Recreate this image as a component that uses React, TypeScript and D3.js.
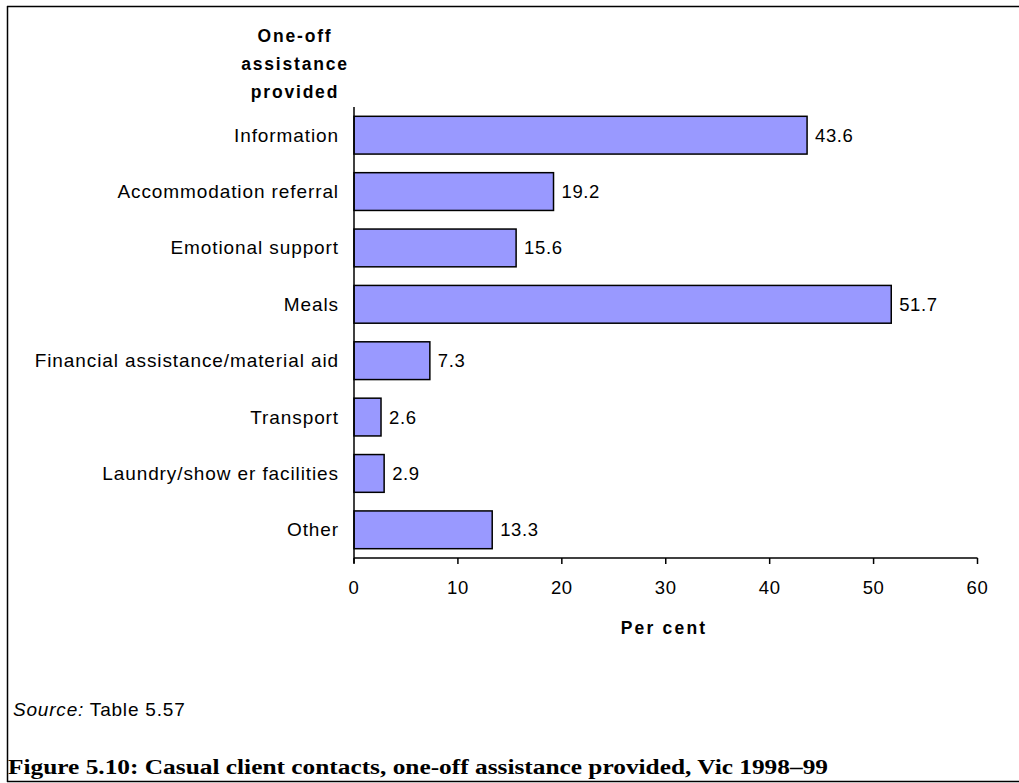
import React from "react";
import * as d3 from "d3";

const categories = [
  "Information",
  "Accommodation referral",
  "Emotional support",
  "Meals",
  "Financial assistance/material aid",
  "Transport",
  "Laundry/show er facilities",
  "Other",
];
const values = [43.6, 19.2, 15.6, 51.7, 7.3, 2.6, 2.9, 13.3];
const xTicks = [0, 10, 20, 30, 40, 50, 60];
const titleLines = ["One-off", "assistance", "provided"];

const W = 1019;
const H = 783;
const left = 354;
const right = 977.5;
const top = 107;
const bottom = 558;

export default function App() {
  const x = d3.scaleLinear().domain([0, 60]).range([left, right]);
  const y = d3
    .scaleBand<string>()
    .domain(categories)
    .range([top, bottom])
    .paddingInner(0.33)
    .paddingOuter(0.165);
  const font = "Arial, 'Liberation Sans', sans-serif";
  return (
    <svg
      width={W}
      height={H}
      style={{ position: "absolute", left: 0, top: 0, background: "#fff" }}
      fontFamily={font}
    >
      <rect x={0} y={0} width={W} height={H} fill="#fff" />
      {/* frame */}
      <line x1={7} y1={6.5} x2={W} y2={6.5} stroke="#000" strokeWidth={1.5} />
      <line x1={7.5} y1={6} x2={7.5} y2={782} stroke="#000" strokeWidth={1.5} />
      <line x1={7} y1={781.5} x2={W} y2={781.5} stroke="#000" strokeWidth={1.5} />

      {/* axis title */}
      {titleLines.map((t, i) => (
        <text
          key={t}
          x={295}
          y={42 + i * 28}
          textAnchor="middle"
          fontWeight="bold"
          fontSize={17.5}
          letterSpacing={1.8}
        >
          {t}
        </text>
      ))}

      {/* bars */}
      {categories.map((c, i) => (
        <g key={c}>
          <rect
            x={x(0)}
            y={y(c)!}
            width={x(values[i]) - x(0)}
            height={y.bandwidth()}
            fill="#9999FF"
            stroke="#000"
            strokeWidth={1.5}
          />
          <text
            x={x(values[i]) + 8}
            y={y(c)! + y.bandwidth() / 2 + 6.5}
            fontSize={18.5}
            letterSpacing={0.6}
          >
            {values[i].toFixed(1)}
          </text>
          <text
            x={339}
            y={y(c)! + y.bandwidth() / 2 + 6.5}
            fontSize={19}
            letterSpacing={0.9}
            textAnchor="end"
          >
            {c}
          </text>
        </g>
      ))}

      {/* axes */}
      <line x1={left} y1={top} x2={left} y2={bottom + 5} stroke="#000" strokeWidth={1.5} />
      <line x1={left} y1={bottom} x2={right} y2={bottom} stroke="#000" strokeWidth={1.5} />
      {xTicks.map((t) => (
        <g key={t}>
          <line x1={x(t)} y1={bottom} x2={x(t)} y2={bottom + 6} stroke="#000" strokeWidth={1.5} />
          <text x={x(t)} y={594} textAnchor="middle" fontSize={18.5} letterSpacing={0.6}>
            {t}
          </text>
        </g>
      ))}
      <text x={664} y={634} textAnchor="middle" fontWeight="bold" fontSize={17.5} letterSpacing={2.2}>
        Per cent
      </text>

      {/* source */}
      <text x={13} y={716} fontSize={19} letterSpacing={0.8}>
        <tspan fontStyle="italic">Source:</tspan> Table 5.57
      </text>

      {/* caption */}
      <text
        x={8}
        y={774}
        fontFamily="'Liberation Serif', serif"
        fontWeight="bold"
        fontSize={20}
        textLength={820}
        lengthAdjust="spacingAndGlyphs"
      >
        Figure 5.10: Casual client contacts, one-off assistance provided, Vic 1998–99
      </text>
    </svg>
  );
}
